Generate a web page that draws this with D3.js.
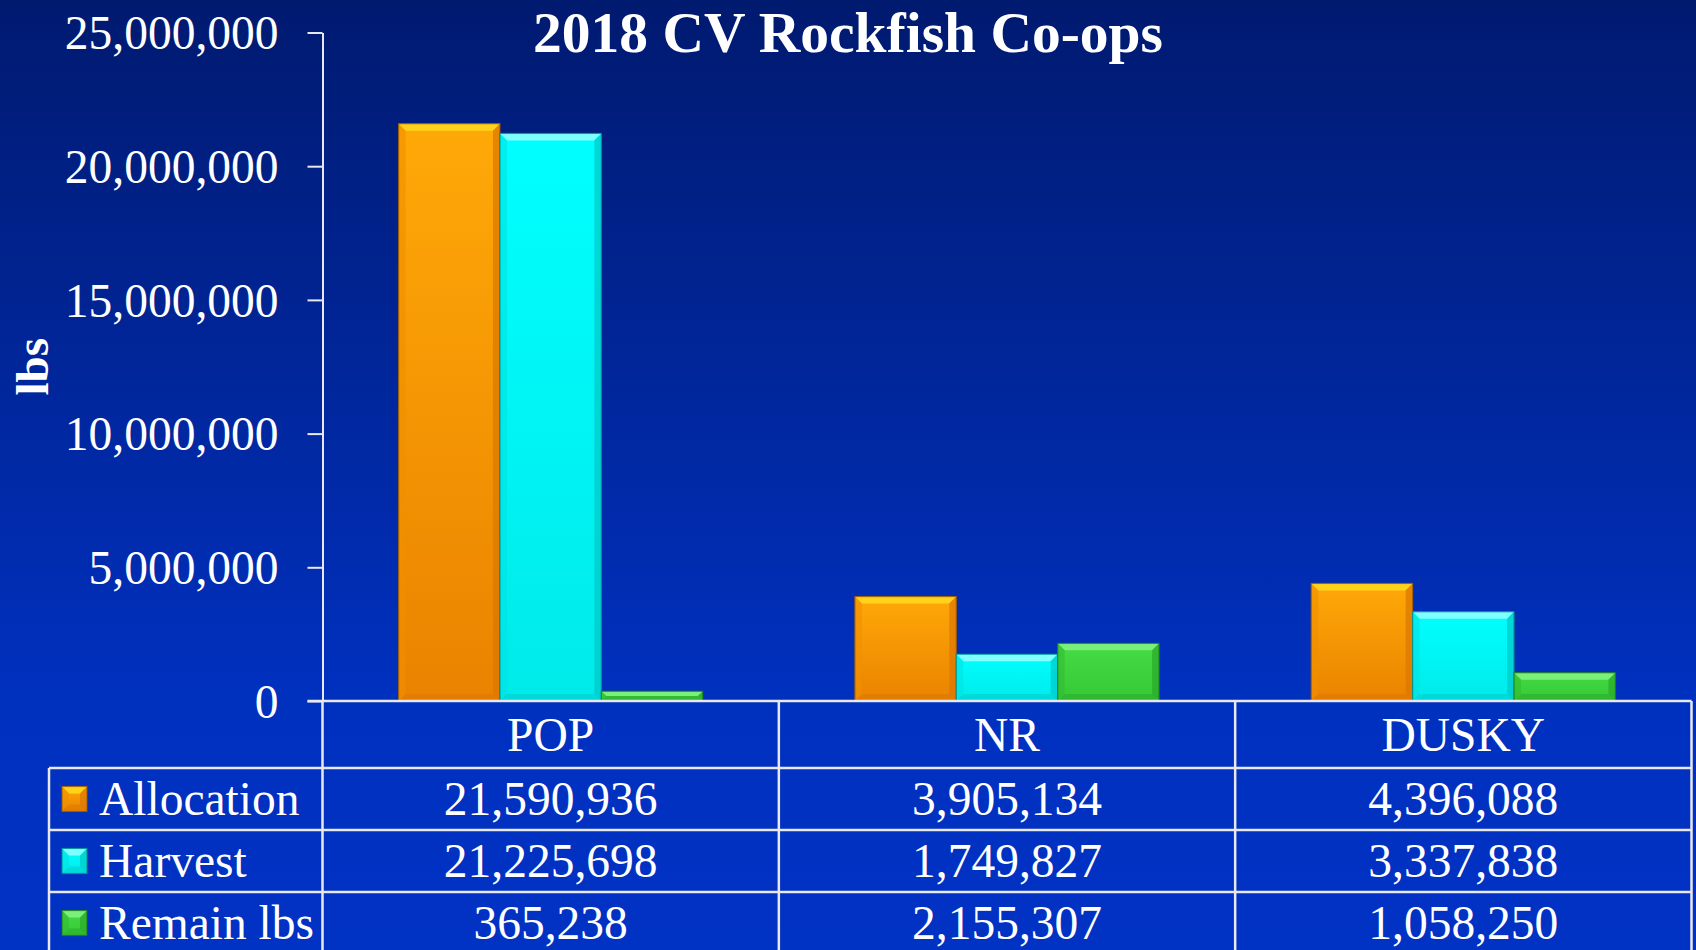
<!DOCTYPE html>
<html>
<head>
<meta charset="utf-8">
<script src="https://cdn.jsdelivr.net/npm/d3@7"></script>
<style>
  html, body { margin: 0; padding: 0; background: #001c72; }
  svg { display: block; }
  text { font-family: "Liberation Serif", "Times New Roman", serif; fill: #ffffff; }
</style>
</head>
<body>
<svg id="chart" width="1696" height="950"></svg>
<script>
const title = "2018 CV Rockfish Co-ops";
const yLabel = "lbs";
const categories = ["POP", "NR", "DUSKY"];
const seriesNames = ["Allocation", "Harvest", "Remain lbs"];
const allocation = [21590936, 3905134, 4396088];
const harvest = [21225698, 1749827, 3337838];
const remain = [365238, 2155307, 1058250];
const yTicks = [0, 5000000, 10000000, 15000000, 20000000, 25000000];

const seriesValues = [allocation, harvest, remain];

const W = 1696, H = 950;
const plotLeft = 322.5, plotRight = 1691.5, plotTop = 32.5, plotBottom = 701;
const headerH = 67, rowH = 62, tableLeft = 49;
const fontSize = 47.5;

const palettes = [
  { top: "#ffa908", bottom: "#ea8300", bevelTop: "#ffd21c", bevelSide: "#f09000", bevelBottom: "#db7600", stroke: "#9a5a00" },
  { top: "#00ffff", bottom: "#00eaea", bevelTop: "#80ffff", bevelSide: "#00e2e2", bevelBottom: "#00c8c8", stroke: "#008a8a" },
  { top: "#45dc45", bottom: "#36c836", bevelTop: "#7aef7a", bevelSide: "#32bc32", bevelBottom: "#29a829", stroke: "#1d761d" }
];

const svg = d3.select("#chart");
const defs = svg.append("defs");

const bg = defs.append("linearGradient").attr("id", "bg").attr("x1", 0).attr("y1", 0).attr("x2", 0).attr("y2", 1);
bg.append("stop").attr("offset", "0%").attr("stop-color", "#001a70");
bg.append("stop").attr("offset", "72%").attr("stop-color", "#0030be");
bg.append("stop").attr("offset", "100%").attr("stop-color", "#0032c4");

palettes.forEach((p, i) => {
  const g = defs.append("linearGradient").attr("id", "bar" + i).attr("x1", 0).attr("y1", 0).attr("x2", 0).attr("y2", 1);
  g.append("stop").attr("offset", "0%").attr("stop-color", p.top);
  g.append("stop").attr("offset", "100%").attr("stop-color", p.bottom);
});

svg.append("rect").attr("width", W).attr("height", H).attr("fill", "url(#bg)");

const y = d3.scaleLinear().domain([0, 25000000]).range([plotBottom, plotTop]);
const x0 = d3.scaleBand().domain(categories).range([plotLeft, plotRight]).padding(0);
const x1 = d3.scaleBand().domain(seriesNames).range([0, x0.bandwidth()]).paddingInner(0).paddingOuter(0.75);

function bevelBar(g, x, yTop, w, h, i) {
  const p = palettes[i];
  const b = Math.min(7, h / 2, w / 2);
  g.append("rect").attr("x", x).attr("y", yTop).attr("width", w).attr("height", h).attr("fill", "url(#bar" + i + ")");
  g.append("polygon").attr("points", [[x, yTop], [x + w, yTop], [x + w - b, yTop + b], [x + b, yTop + b]].map(d => d.join(",")).join(" ")).attr("fill", p.bevelTop);
  g.append("polygon").attr("points", [[x, yTop], [x + b, yTop + b], [x + b, yTop + h - b], [x, yTop + h]].map(d => d.join(",")).join(" ")).attr("fill", p.bevelSide).attr("opacity", 0.6);
  g.append("polygon").attr("points", [[x + w, yTop], [x + w - b, yTop + b], [x + w - b, yTop + h - b], [x + w, yTop + h]].map(d => d.join(",")).join(" ")).attr("fill", p.bevelBottom).attr("opacity", 0.7);
  g.append("polygon").attr("points", [[x, yTop + h], [x + b, yTop + h - b], [x + w - b, yTop + h - b], [x + w, yTop + h]].map(d => d.join(",")).join(" ")).attr("fill", p.bevelBottom).attr("opacity", 0.5);
  g.append("rect").attr("x", x).attr("y", yTop).attr("width", w).attr("height", h).attr("fill", "none").attr("stroke", p.stroke).attr("stroke-width", 1.2).attr("opacity", 0.8);
}

// bars
const barsG = svg.append("g");
categories.forEach((c, ci) => {
  seriesNames.forEach((s, si) => {
    const v = seriesValues[si][ci];
    const bx = x0(c) + x1(s);
    const by = y(v);
    bevelBar(barsG, bx, by, x1.bandwidth(), plotBottom - by, si);
  });
});

// y axis
const yAxis = d3.axisLeft(y).tickValues(yTicks).tickFormat(d3.format(",")).tickSize(15).tickSizeOuter(0).tickPadding(29);
const ax = svg.append("g").attr("transform", `translate(${plotLeft},0)`).call(yAxis);
ax.select(".domain").attr("stroke", "#e8e8f0").attr("stroke-width", 2);
ax.selectAll(".tick line").attr("stroke", "#e8e8f0").attr("stroke-width", 2);
ax.selectAll(".tick text").attr("font-size", fontSize).attr("fill", "#ffffff")
  .attr("font-family", "'Liberation Serif', 'Times New Roman', serif").attr("dy", "0.34em");

// zero line
svg.append("line").attr("x1", plotLeft - 15).attr("x2", plotRight).attr("y1", plotBottom).attr("y2", plotBottom)
  .attr("stroke", "#e8e8f0").attr("stroke-width", 2.5);

// title
svg.append("text").attr("x", 848).attr("y", 52).attr("text-anchor", "middle")
  .attr("font-size", 57.5).attr("font-weight", "bold").text(title);

// y label
svg.append("text").attr("transform", `translate(48,${(plotTop + plotBottom) / 2}) rotate(-90)`)
  .attr("text-anchor", "middle").attr("font-size", 47).attr("font-weight", "bold").text(yLabel);

// data table
const tableG = svg.append("g");
const lineStyle = sel => sel.attr("stroke", "#e8e8f0").attr("stroke-width", 2.5);
const rowTop = i => plotBottom + headerH + i * rowH;

const bounds = categories.map(c => x0(c)).concat([x0(categories[categories.length - 1]) + x0.bandwidth()]);
bounds.forEach(bx => {
  tableG.append("line").attr("x1", bx).attr("x2", bx).attr("y1", plotBottom).attr("y2", H).call(lineStyle);
});
tableG.append("line").attr("x1", tableLeft).attr("x2", tableLeft).attr("y1", rowTop(0)).attr("y2", H).call(lineStyle);
seriesNames.forEach((s, i) => {
  tableG.append("line").attr("x1", tableLeft).attr("x2", plotRight).attr("y1", rowTop(i)).attr("y2", rowTop(i)).call(lineStyle);
});

categories.forEach(c => {
  tableG.append("text").attr("x", x0(c) + x0.bandwidth() / 2).attr("y", plotBottom + headerH / 2)
    .attr("dy", "0.34em").attr("text-anchor", "middle").attr("font-size", fontSize).text(c);
});

const fmt = d3.format(",");
seriesNames.forEach((s, si) => {
  const cy = rowTop(si) + rowH / 2;
  bevelBar(tableG, 62, cy - 12.5, 25, 25, si);
  tableG.append("text").attr("x", 99).attr("y", cy).attr("dy", "0.34em").attr("font-size", fontSize).text(s);
  categories.forEach((c, ci) => {
    tableG.append("text").attr("x", x0(c) + x0.bandwidth() / 2).attr("y", cy).attr("dy", "0.34em")
      .attr("text-anchor", "middle").attr("font-size", fontSize).text(fmt(seriesValues[si][ci]));
  });
});
</script>
</body>
</html>
